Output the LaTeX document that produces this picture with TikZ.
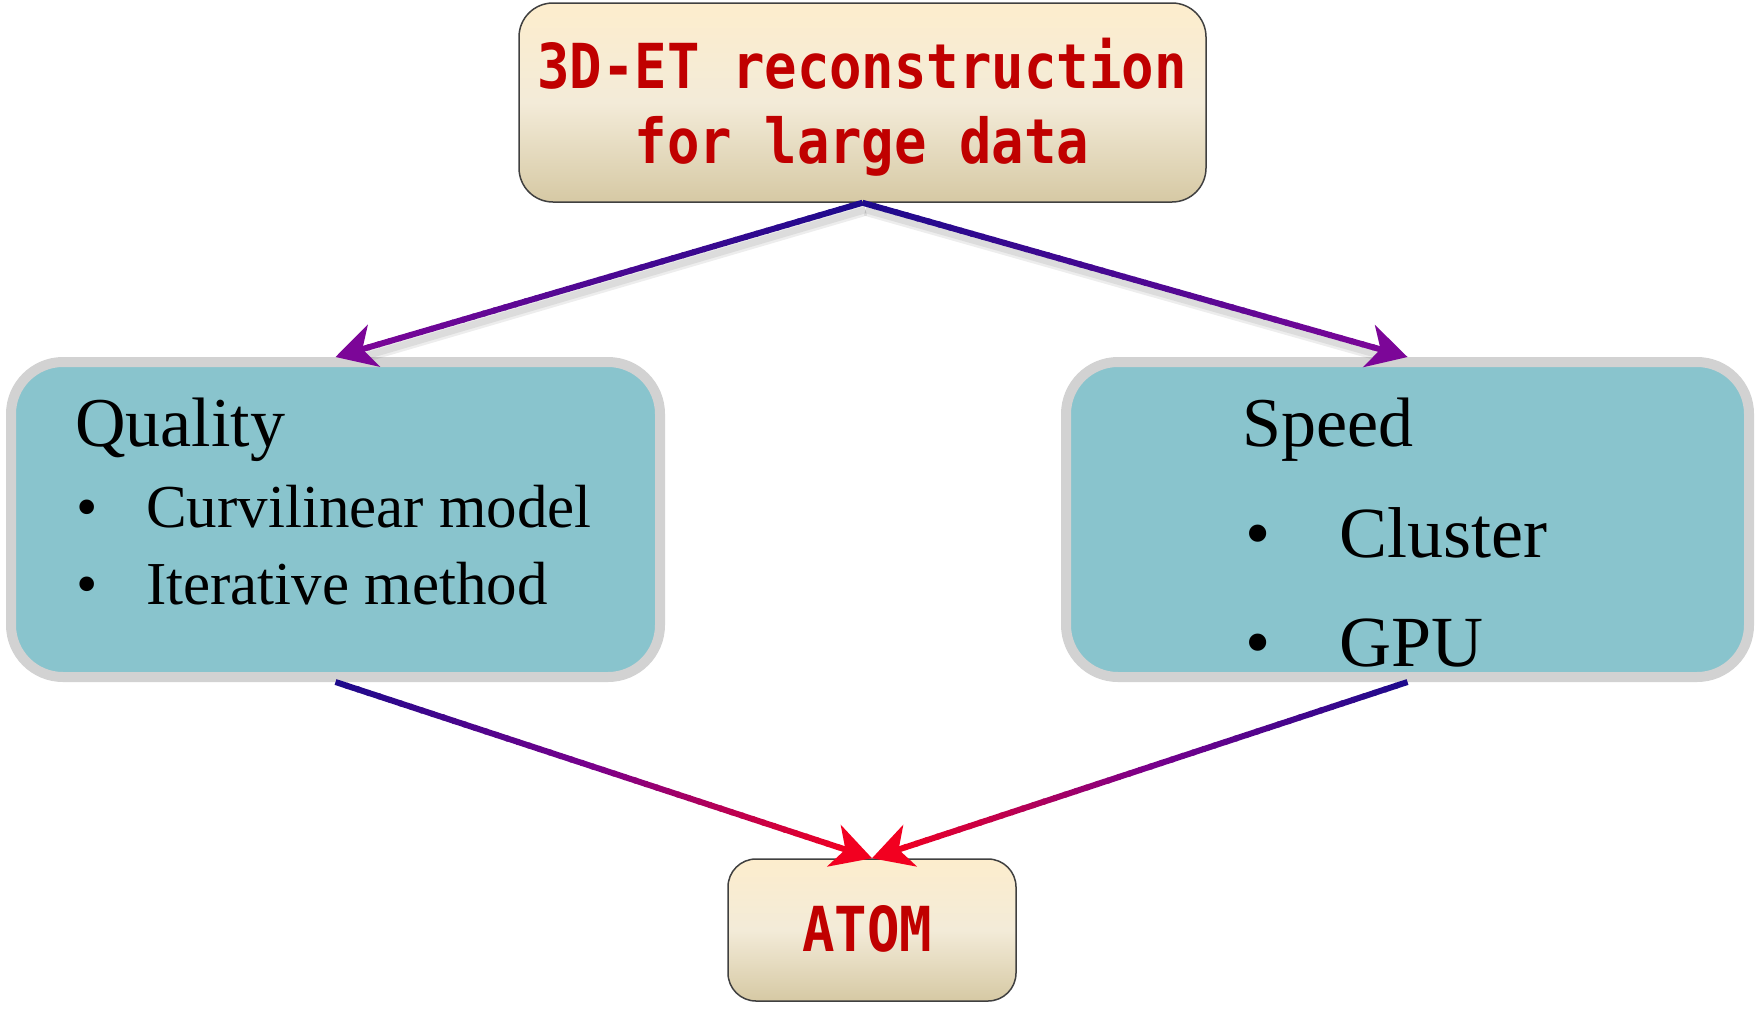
\documentclass[tikz,border=0pt]{standalone}
\usepackage{fontspec}
\setmainfont{Liberation Serif}
\newfontfamily\monob[FakeStretch=0.87]{DejaVu Sans Mono}
\usetikzlibrary{calc}
\definecolor{creamtop}{HTML}{FDEDCD}
\definecolor{creammid}{HTML}{F3EBD8}
\definecolor{creambot}{HTML}{D6C9A4}
\definecolor{tealfill}{HTML}{89C4CD}
\definecolor{tealborder}{HTML}{D2D2D2}
\definecolor{redtext}{HTML}{C00000}
\definecolor{navyA}{HTML}{1C0A8C}
\definecolor{purpleA}{HTML}{7C0698}
\definecolor{purpleM}{HTML}{4A0892}
\definecolor{purpleB}{HTML}{78008C}
\definecolor{redA}{HTML}{F20020}
\tikzset{
  creambox/.style={draw=black!75, line width=1.5pt, rounded corners=34pt,
    top color=creamtop, bottom color=creambot, middle color=creammid, inner sep=0pt},
  tealbox/.style={draw=tealborder, line width=10pt, fill=tealfill, rounded corners=52pt, inner sep=0pt},
  monotext/.style={text=redtext, font=\monob\bfseries\fontsize{62}{75}\selectfont, inner sep=0pt},
  leftitem/.style={anchor=base west, inner sep=0pt, font=\fontsize{61}{70}\selectfont},
  rightitem/.style={anchor=base west, inner sep=0pt, font=\fontsize{72}{80}\selectfont},
  headtext/.style={anchor=base west, inner sep=0pt, font=\fontsize{70}{80}\selectfont},
  shadowline/.style={line width=#1, color=black, opacity=0.07}
}
% soft shadow under a connector: #1 from, #2 to
\newcommand\connshadow[2]{%
  \draw[shadowline=12pt] ([shift={(3,7)}]#1) -- ($([shift={(3,7)}]#2)!30pt!([shift={(3,7)}]#1)$);
  \draw[shadowline=7pt] ([shift={(3,7)}]#1) -- ($([shift={(3,7)}]#2)!30pt!([shift={(3,7)}]#1)$);
}
% gradient connector: #1 from, #2 to, #3 start colour, #4 middle colour, #5 end colour
\newcommand\gradconn[5]{%
  \foreach \k in {0,...,47}{%
    \pgfmathsetmacro\ta{0.955*\k/48}%
    \pgfmathsetmacro\tb{0.955*(\k+1)/48+0.004}%
    \pgfmathsetmacro\s{(\k+0.5)/48}%
    \ifdim\s pt<0.5pt
      \pgfmathsetmacro\pc{200*\s}%
      \draw[line width=6pt, color=#4!\pc!#3] ($(#1)!\ta!(#2)$) -- ($(#1)!\tb!(#2)$);
    \else
      \pgfmathsetmacro\pc{200*(\s-0.5)}%
      \draw[line width=6pt, color=#5!\pc!#4] ($(#1)!\ta!(#2)$) -- ($(#1)!\tb!(#2)$);
    \fi
  }%
  \fill[#5] (#2) -- ($(#2)!46pt!28.81:(#1)$) -- ($(#2)!28pt!(#1)$) -- ($(#2)!46pt!-28.81:(#1)$) -- cycle;
}
\begin{document}
\begin{tikzpicture}[x=1pt,y=-1pt]
\useasboundingbox (0,0) rectangle (1758,1009);
% boxes
\node[creambox, minimum width=687pt, minimum height=199pt] (top) at (862.5,102.5) {};
\node[tealbox, minimum width=649pt, minimum height=315pt] (qual) at (335.5,519.5) {};
\node[tealbox, minimum width=683pt, minimum height=315pt] (speed) at (1407.5,519.5) {};
\node[creambox, rounded corners=28pt, minimum width=288pt, minimum height=142pt] (atom) at (872,930) {};
% texts
\node[monotext, anchor=base] (t1) at (862,88) {3D-ET reconstruction};
\node[monotext, anchor=base] (t2) at (862,163) {for large data};
\node[monotext, anchor=base] (t3) at (867,951) {ATOM};
\node[headtext] (qh) at (75,446) {Quality};
\node[leftitem] (q1) at (76,527) {\makebox[70pt][l]{\textbullet}Curvilinear model};
\node[leftitem] (q2) at (76,604) {\makebox[70pt][l]{\textbullet}Iterative method};
\node[headtext] (sh) at (1242,446) {Speed};
\node[rightitem] (s1) at (1245,557) {\makebox[94pt][l]{\textbullet}Cluster};
\node[rightitem] (s2) at (1245,666) {\makebox[94pt][l]{\textbullet}GPU};
% connectors
\connshadow{top.south}{qual.north}
\connshadow{top.south}{speed.north}
\gradconn{top.south}{qual.north}{navyA}{purpleM}{purpleA}
\gradconn{top.south}{speed.north}{navyA}{purpleM}{purpleA}
\gradconn{qual.south}{atom.north}{navyA}{purpleB}{redA}
\gradconn{speed.south}{atom.north}{navyA}{purpleB}{redA}
\end{tikzpicture}
\end{document}
